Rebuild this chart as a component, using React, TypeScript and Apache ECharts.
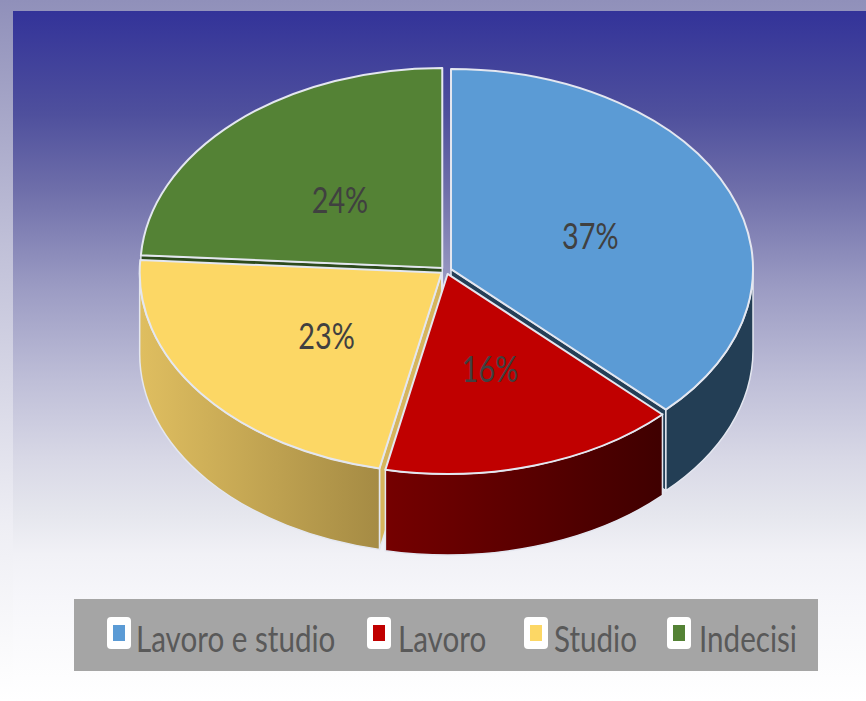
import React, { useEffect, useRef } from "react";
import * as echarts from "echarts";

const categories = ["Lavoro e studio", "Lavoro", "Studio", "Indecisi"];
const values = [37.4, 15.9, 22.7, 24.0];
const topColors = ["#5b9bd5", "#c00000", "#fcd765", "#548235"];
const cutColors = ["#243f57", "#500000", "#d6b55d", "#2c4a1c"];
const wallStops: [string, string][] = [
  ["#233e55", "#233e55"],
  ["#750000", "#3f0000"],
  ["#dfbe60", "#a58b44"],
  ["#385723", "#385723"],
];
const labelNudge = [[0, 1], [-1, -6], [5, -2], [1, 0]];
const paintOrder = [3, 0, 2, 1];
const legendMarkerX = [107, 367, 524, 667];
const legendTextX = [136, 398, 554, 699];

const CX = 446, CY = 270.5, RX = 302, RY = 200, DEPTH = 81, EXPLODE = 0.018;
const EDGE = "#e4e7f0";
const FONT = 'Lato, "Open Sans", sans-serif';
const TEXT_SCALE = 0.8;

const total = values.reduce((a, b) => a + b, 0);

function startOf(i: number) {
  let s = 0;
  for (let k = 0; k < i; k++) s += values[k];
  return (s / total) * 360;
}

function makeRender(i: number) {
  return (_p: any, api: any) => {
    const start = startOf(i);
    const end = start + (api.value(0) / total) * 360;
    const rad = (d: number) => (d * Math.PI) / 180;
    const mid = rad((start + end) / 2);
    const ax = CX + EXPLODE * RX * Math.sin(mid);
    const ay = CY - EXPLODE * RY * Math.cos(mid);
    const pt = (d: number) => [ax + RX * Math.sin(rad(d)), ay - RY * Math.cos(rad(d))];
    const children: any[] = [];

    const [sx, sy] = pt(start);
    const [ex, ey] = pt(end);

    const cut = (d: number) => {
      const [x, y] = pt(d);
      children.push({
        type: "path",
        shape: { pathData: `M${ax} ${ay}L${x} ${y}L${x} ${y + DEPTH}L${ax} ${ay + DEPTH}Z` },
        style: { fill: cutColors[i], stroke: EDGE, lineWidth: 1.5 },
      });
    };
    if (Math.sin(rad(start)) < -1e-6) cut(start);
    if (Math.sin(rad(end)) > 1e-6) cut(end);

    const a = Math.max(start, 90);
    const b = Math.min(end, 270);
    if (b > a) {
      const [x1, y1] = pt(a);
      const [x2, y2] = pt(b);
      const large = b - a > 180 ? 1 : 0;
      children.push({
        type: "path",
        shape: {
          pathData: `M${x1} ${y1}A${RX} ${RY} 0 ${large} 1 ${x2} ${y2}L${x2} ${y2 + DEPTH}A${RX} ${RY} 0 ${large} 0 ${x1} ${y1 + DEPTH}Z`,
        },
        style: {
          fill: {
            type: "linear",
            x: Math.min(x1, x2),
            y: 0,
            x2: Math.max(x1, x2),
            y2: 0,
            global: true,
            colorStops: [
              { offset: 0, color: wallStops[i][0] },
              { offset: 1, color: wallStops[i][1] },
            ],
          },
          stroke: EDGE,
          lineWidth: 1.5,
        },
      });
    }

    const large = end - start > 180 ? 1 : 0;
    children.push({
      type: "path",
      shape: { pathData: `M${ax} ${ay}L${sx} ${sy}A${RX} ${RY} 0 ${large} 1 ${ex} ${ey}Z` },
      style: { fill: topColors[i], stroke: EDGE, lineWidth: 2, lineJoin: "round" },
    });

    children.push({
      type: "text",
      z2: 10,
      x: ax + 0.5 * RX * Math.sin(mid) + labelNudge[i][0],
      y: ay - 0.5 * RY * Math.cos(mid) + 4 + labelNudge[i][1],
      scaleX: TEXT_SCALE,
      style: {
        text: `${Math.round(api.value(0))}%`,
        x: 0,
        y: 0,
        fill: "#404040",
        font: `36px ${FONT}`,
        align: "center",
        verticalAlign: "middle",
      },
    });
    return { type: "group", children };
  };
}

export default function App() {
  const ref = useRef<HTMLDivElement>(null);
  useEffect(() => {
    document.body.style.margin = "0";
    const chart = echarts.init(ref.current!, null, { renderer: "svg" });
    const legendItems = categories.flatMap((name, i) => [
      {
        type: "rect", z: 5, silent: true,
        shape: { x: legendMarkerX[i], y: 617, width: 24, height: 32, r: 4 },
        style: { fill: "#ffffff" },
      },
      {
        type: "rect", z: 6, silent: true,
        shape: { x: legendMarkerX[i] + 6, y: 625, width: 12, height: 16 },
        style: { fill: topColors[i] },
      },
      {
        type: "text", z: 6, silent: true,
        x: legendTextX[i], y: 638, scaleX: TEXT_SCALE,
        style: { text: name, x: 0, y: 0, fill: "#595959", font: `37px ${FONT}`, align: "left", verticalAlign: "middle" },
      },
    ]);
    chart.setOption({
      animation: false,
      backgroundColor: {
        type: "linear", x: 0, y: 0, x2: 0, y2: 1,
        colorStops: [
          { offset: 0, color: "#9090ba" },
          { offset: 0.35, color: "#c0c0d8" },
          { offset: 0.75, color: "#eeeef4" },
          { offset: 1, color: "#ffffff" },
        ],
      },
      graphic: [
        {
          type: "rect", z: -2, silent: true,
          shape: { x: 13, y: 11, width: 853, height: 690 },
          style: {
            fill: {
              type: "linear", x: 0, y: 0, x2: 0, y2: 1,
              colorStops: [
                { offset: 0, color: "#333399" },
                { offset: 0.151, color: "#4f509d" },
                { offset: 0.261, color: "#6f6faa" },
                { offset: 0.4, color: "#9b9bc3" },
                { offset: 0.538, color: "#bfbfd8" },
                { offset: 0.649, color: "#d8d8e6" },
                { offset: 0.732, color: "#e6e7ee" },
                { offset: 0.787, color: "#f1f1f6" },
                { offset: 0.848, color: "#f6f6fa" },
                { offset: 1, color: "#ffffff" },
              ],
            },
          },
        },
        {
          type: "rect", z: -1, silent: true,
          shape: { x: 74, y: 599, width: 744, height: 72 },
          style: { fill: "#a5a5a5" },
        },
        ...legendItems,
      ],
      series: paintOrder.map((i) => ({
        type: "custom",
        name: categories[i],
        coordinateSystem: "none",
        silent: true,
        itemStyle: { color: topColors[i] },
        renderItem: makeRender(i),
        data: [[values[i]]],
      })),
    });
    return () => chart.dispose();
  }, []);
  return <div ref={ref} style={{ width: 866, height: 701 }} />;
}
